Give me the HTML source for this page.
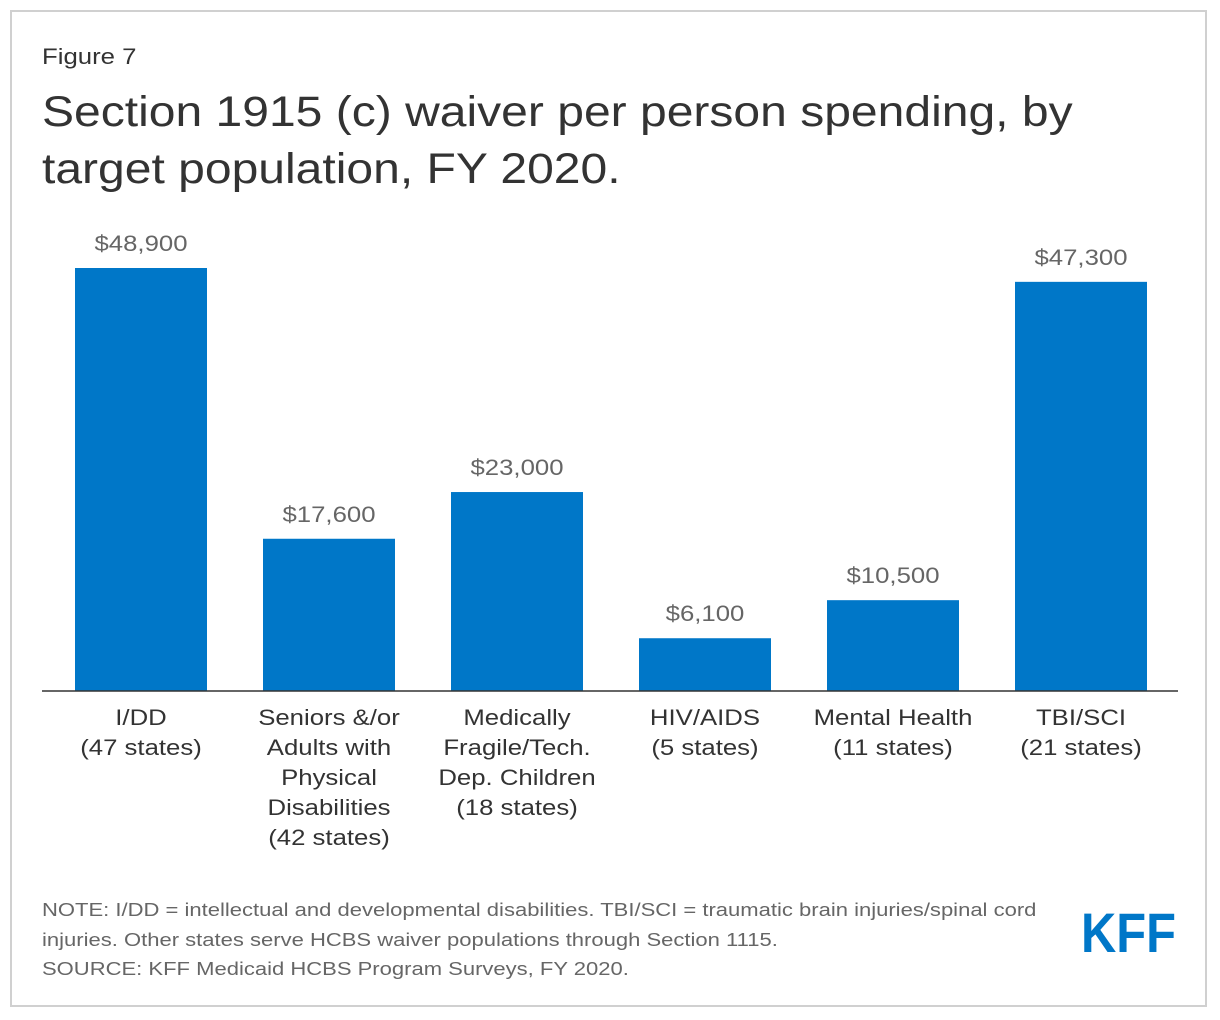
<!DOCTYPE html>
<html><head><meta charset="utf-8"><style>
body{margin:0;background:#fff;width:1220px;height:1020px;overflow:hidden;font-family:"Liberation Sans",Arial,sans-serif}
#frame{position:absolute;left:10px;top:10px;width:1197px;height:997px;border:2px solid #d0d0d0;box-sizing:border-box}
.t{position:absolute;white-space:nowrap;transform-origin:left top}
</style></head><body>
<div id="frame"></div>
<div class="t" style="left:42px;top:44px;font-size:22px;color:#333;transform:scaleX(1.17)">Figure 7</div>
<div class="t" style="left:42px;top:84px;font-size:43px;line-height:57px;color:#333;transform:scaleX(1.117)">Section 1915 (c) waiver per person spending, by<br>target population, FY 2020.</div>
<svg id="chart" width="1220" height="1020" style="position:absolute;left:0;top:0"></svg>
<div class="t" style="left:42px;top:895px;font-size:18.5px;line-height:29.5px;color:#666;transform:scaleX(1.19)">NOTE: I/DD = intellectual and developmental disabilities. TBI/SCI = traumatic brain injuries/spinal cord<br>injuries. Other states serve HCBS waiver populations through Section 1115.<br>SOURCE: KFF Medicaid HCBS Program Surveys, FY 2020.</div>
<svg style="position:absolute;left:0;top:0" width="1220" height="1020"><text x="1081" y="952" font-size="56" font-weight="bold" fill="#0077c8" font-family="Liberation Sans, sans-serif" textLength="95" lengthAdjust="spacingAndGlyphs">KFF</text></svg>
<script>
const categories=[["I/DD","(47 states)"],["Seniors &/or","Adults with","Physical","Disabilities","(42 states)"],["Medically","Fragile/Tech.","Dep. Children","(18 states)"],["HIV/AIDS","(5 states)"],["Mental Health","(11 states)"],["TBI/SCI","(21 states)"]];
const values=[48900,17600,23000,6100,10500,47300];
const valueLabels=["$48,900","$17,600","$23,000","$6,100","$10,500","$47,300"];
const svg=document.getElementById('chart');
const NS='http://www.w3.org/2000/svg';
const baseY=691, scale=423/48900, x0=141, step=188, bw=132;
const y=v=>baseY-v*scale;
const xc=i=>x0+i*step;
function mk(t,a){const e=document.createElementNS(NS,t);for(const k in a)e.setAttribute(k,a[k]);svg.appendChild(e);return e;}
values.forEach((v,i)=>{
 const r=mk('rect',{x:xc(i)-bw/2,y:y(v),width:bw,height:baseY-y(v),fill:'#0077c8'});
 
 
 const t=mk('text',{x:0,y:0,transform:'translate('+xc(i)+','+(y(v)-17)+') scale(1.17,1)','text-anchor':'middle','font-size':'22','fill':'#666','font-family':'Liberation Sans, sans-serif'});
 t.textContent=valueLabels[i];
 
 
 categories[i].forEach((s,j)=>{
  const c=mk('text',{x:0,y:0,transform:'translate('+xc(i)+','+(725+j*30)+') scale(1.17,1)','text-anchor':'middle','font-size':'22','fill':'#333','font-family':'Liberation Sans, sans-serif'});
  c.textContent=s;
  
  
 });
});
const ax=mk('line',{x1:42,x2:1178,y1:baseY,y2:baseY,stroke:'#333','stroke-width':'1.5'});


</script>
</body></html>
